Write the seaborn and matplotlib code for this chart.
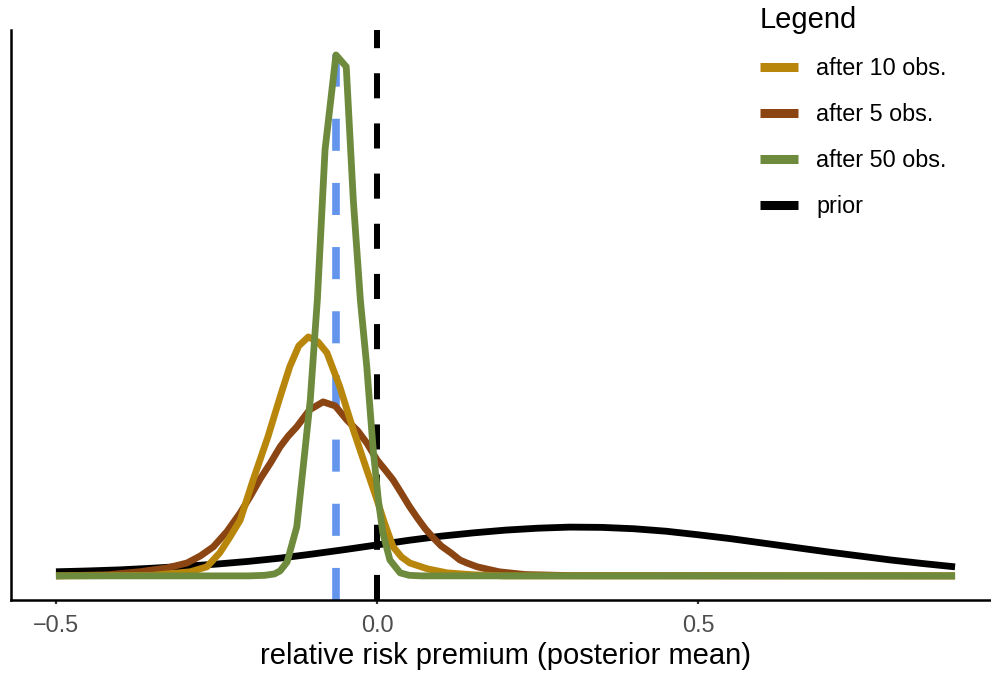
import matplotlib
matplotlib.use("Agg")
import matplotlib.pyplot as plt
from matplotlib.lines import Line2D
import numpy as np
import pandas as pd
import seaborn as sns

# posterior densities (x = relative risk premium)
prior_x = [-0.5, -0.45, -0.4, -0.35, -0.3, -0.25, -0.2, -0.15, -0.1, -0.05, 0.0,
           0.05, 0.1, 0.15, 0.2, 0.25, 0.3, 0.35, 0.4, 0.45, 0.5, 0.55, 0.6,
           0.65, 0.7, 0.75, 0.8, 0.85, 0.9]
prior_y = [0.15, 0.18, 0.22, 0.28, 0.35, 0.43, 0.53, 0.65, 0.80, 0.96, 1.13,
           1.30, 1.45, 1.57, 1.67, 1.74, 1.78, 1.77, 1.72, 1.63, 1.50, 1.36, 1.20,
           1.04, 0.88, 0.73, 0.58, 0.45, 0.33]

obs5_x = [-0.5, -0.42, -0.37, -0.327, -0.296, -0.275, -0.255, -0.234, -0.213,
          -0.197, -0.182, -0.166, -0.151, -0.138, -0.125, -0.105, -0.084, -0.065,
          -0.047, -0.03, -0.016, 0.0, 0.0125, 0.025, 0.0375, 0.05, 0.0625, 0.075,
          0.0875, 0.1, 0.115, 0.129, 0.14, 0.156, 0.19, 0.23, 0.3, 0.9]
obs5_y = [0.0, 0.04, 0.15, 0.29, 0.47, 0.73, 1.06, 1.61, 2.30,
          2.92, 3.54, 4.12, 4.71, 5.11, 5.44, 6.06, 6.35, 6.20,
          5.69, 5.29, 4.85, 4.23, 3.87, 3.50, 3.03, 2.55, 2.12, 1.72,
          1.39, 1.09, 0.84, 0.58, 0.47, 0.33, 0.15, 0.05, 0.01, 0.0]

obs10_x = [-0.5, -0.35, -0.291, -0.265, -0.245, -0.229, -0.213, -0.193, -0.17,
           -0.151, -0.136, -0.122, -0.107, -0.092, -0.078, -0.058, -0.037, -0.016,
           0.0, 0.012, 0.025, 0.038, 0.051, 0.078, 0.109, 0.15, 0.2, 0.9]
obs10_y = [0.0, 0.02, 0.15, 0.33, 0.84, 1.42, 2.04, 3.50, 5.07,
           6.53, 7.63, 8.39, 8.72, 8.54, 8.14, 6.90, 5.33, 3.87,
           2.77, 1.90, 1.06, 0.69, 0.47, 0.26, 0.11, 0.04, 0.0, 0.0]

obs50_x = [-0.5, -0.2, -0.175, -0.16, -0.151, -0.14, -0.125, -0.115, -0.104,
           -0.093, -0.081, -0.064, -0.048, -0.037, -0.026, -0.016, -0.006,
           0.002, 0.009, 0.02, 0.036, 0.05, 0.07, 0.9]
obs50_y = [0.0, 0.0, 0.02, 0.07, 0.18, 0.51, 1.79, 3.98, 6.42,
           10.07, 15.55, 19.01, 18.58, 13.72, 10.07, 7.63, 4.60,
           2.77, 1.57, 0.58, 0.11, 0.02, 0.0, 0.0]

true_value = -0.064   # blue dashed reference line
zero_line = 0.0

legend_order = ["after 10 obs.", "after 5 obs.", "after 50 obs.", "prior"]
draw_order = ["prior", "after 5 obs.", "after 10 obs.", "after 50 obs."]
colors = {"after 10 obs.": "#B8860B", "after 5 obs.": "#8B4513",
          "after 50 obs.": "#6E8B3D", "prior": "#000000"}

df = pd.concat([
    pd.DataFrame({"x": prior_x, "density": prior_y, "series": "prior"}),
    pd.DataFrame({"x": obs5_x, "density": obs5_y, "series": "after 5 obs."}),
    pd.DataFrame({"x": obs10_x, "density": obs10_y, "series": "after 10 obs."}),
    pd.DataFrame({"x": obs50_x, "density": obs50_y, "series": "after 50 obs."}),
], ignore_index=True)

sns.set_theme(style="ticks")
plt.rcParams["font.family"] = ["Liberation Sans", "DejaVu Sans"]
plt.rcParams["text.color"] = "black"
plt.rcParams["axes.labelcolor"] = "black"

W, H = 991, 673
fig = plt.figure(figsize=(W / 100, H / 100), dpi=100)
ax = fig.add_axes([11 / W, (H - 600) / H, 989 / W, 570 / H])

ax.axvline(true_value, color="#6495ED", lw=5.5, dashes=(4.2, 4.2))
ax.axvline(zero_line, color="black", lw=4.3, dashes=(4.2, 4.2))

sns.lineplot(data=df, x="x", y="density", hue="series", hue_order=draw_order,
             palette=colors, linewidth=4.9, legend=False, sort=True, ax=ax,
             solid_capstyle="butt")

ax.set_xlim(-0.57, 0.97)
ax.set_ylim(-0.88, 19.92)
ax.set_xticks([-0.5, 0.0, 0.5])
ax.set_xticklabels(["\u22120.5", "0.0", "0.5"])
ax.set_yticks([])
ax.set_ylabel("")
ax.set_xlabel("relative risk premium (posterior mean)", fontsize=21, labelpad=4)
ax.tick_params(axis="x", colors="#333333", labelcolor="#4D4D4D",
               labelsize=16.8, length=3, width=1.6, pad=7)
for side in ["top", "right"]:
    ax.spines[side].set_visible(False)
for side in ["left", "bottom"]:
    ax.spines[side].set_linewidth(1.8)
    ax.spines[side].set_color("black")

handles = [Line2D([0], [0], color=colors[s], lw=6.5, solid_capstyle="butt")
           for s in legend_order]
leg = ax.legend(handles, legend_order, title="Legend", loc="upper left",
                bbox_to_anchor=(760 / W, 1 - 6 / H), bbox_transform=fig.transFigure,
                frameon=False, fontsize=16.8, title_fontsize=21,
                handlelength=1.63, handletextpad=0.77, labelspacing=0.99,
                borderpad=0, borderaxespad=0)
leg._legend_box.align = "left"

fig.savefig("out.png", dpi=100)
